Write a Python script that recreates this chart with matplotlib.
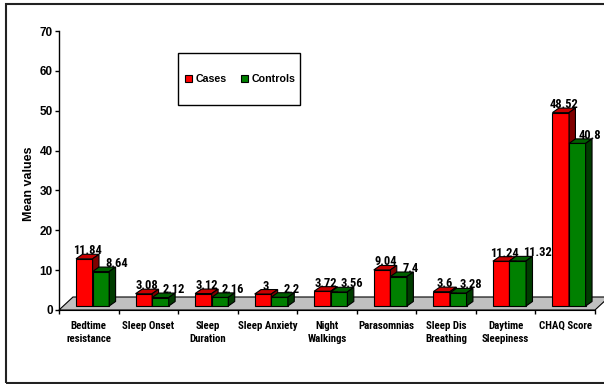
import matplotlib
matplotlib.use("Agg")
import matplotlib.pyplot as plt
from matplotlib.patches import Polygon, Rectangle, Patch
from matplotlib.transforms import offset_copy

categories = ["Bedtime\nresistance", "Sleep Onset", "Sleep\nDuration", "Sleep Anxiety",
              "Night\nWalkings", "Parasomnias", "Sleep Dis\nBreathing", "Daytime\nSleepiness",
              "CHAQ Score"]
cases = [11.84, 3.08, 3.12, 3.0, 3.72, 9.04, 3.6, 11.24, 48.52]
controls = [8.64, 2.12, 2.16, 2.2, 3.56, 7.4, 3.28, 11.32, 40.8]
series_names = ["Cases", "Controls"]

W, H = 604, 384
fig = plt.figure(figsize=(W / 100, H / 100), dpi=100)
fig.patch.set_facecolor("white")

# plot area in pixel terms
x0, x1, ytop, ybot = 59, 595, 31, 310
ax = fig.add_axes([x0 / W, (H - ybot) / H, (x1 - x0) / W, (ybot - ytop) / H])
ax.set_xlim(0, len(categories))
ax.set_ylim(0, 70)
ax.patch.set_alpha(0)

px_x = (x1 - x0) / len(categories)   # pixels per category
px_y = (ybot - ytop) / 70.0           # pixels per unit

bold = dict(family=["Liberation Sans", "DejaVu Sans"], weight="bold")
narrow = dict(family=["Roboto Condensed", "Liberation Sans"], weight="bold")

# floor
fdx, fdy = 14 / px_x, 13 / px_y
n = len(categories)
floor = Polygon([(0, 0), (n, 0), (n + fdx, fdy), (fdx, fdy)], closed=True,
                facecolor="#c0c0c0", edgecolor="black", lw=0.8, zorder=1, clip_on=False)
ax.add_patch(floor)

# bars sit slightly back from the floor edge
tr = offset_copy(ax.transData, fig=fig, x=0, y=4, units="dots")
bw = 16.6 / px_x
gap0 = 17 / px_x
dx, dy = 6.4 / px_x, 4.5 / px_y
palettes = [("#ff0000", "#c80000", "#800000"), ("#008000", "#006000", "#003c00")]
label_shift = [0, 9]
labels = [[], []]

for s, vals in enumerate([cases, controls]):
    front, top, side = palettes[s]
    ltr = offset_copy(tr, fig=fig, x=label_shift[s], y=0, units="dots")
    for i, v in enumerate(vals):
        xl = i + gap0 + s * bw
        z = 3 + s
        ax.bar(xl, v, width=bw, align="edge", color=front, edgecolor="black",
               lw=0.8, transform=tr, zorder=z, clip_on=False)
        ax.add_patch(Polygon([(xl, v), (xl + bw, v), (xl + bw + dx, v + dy), (xl + dx, v + dy)],
                             closed=True, facecolor=top, edgecolor="black", lw=0.8,
                             transform=tr, zorder=z, clip_on=False))
        ax.add_patch(Polygon([(xl + bw, 0), (xl + bw + dx, dy), (xl + bw + dx, v + dy), (xl + bw, v)],
                             closed=True, facecolor=side, edgecolor="black", lw=0.8,
                             transform=tr, zorder=z, clip_on=False))
        t = ax.text(xl + (bw + dx) / 2, v + dy, f"{v:g}", transform=ltr, ha="center",
                    va="baseline", fontsize=9, zorder=10, clip_on=False, **narrow)
        labels[s].append(t)

# axes styling
for sp in ["top", "right"]:
    ax.spines[sp].set_visible(False)
ax.spines["left"].set_linewidth(1)
ax.spines["bottom"].set_linewidth(0.8)
ax.set_yticks(range(0, 71, 10))
ax.tick_params(axis="y", direction="out", length=3, width=1, pad=1.5)
for lb in ax.get_yticklabels():
    lb.set_fontsize(8.5)
    lb.set_fontfamily(bold["family"])
    lb.set_fontweight("bold")

ax.set_xticks(range(0, n + 1))
ax.set_xticklabels([])
ax.tick_params(axis="x", which="major", direction="out", length=3, width=1)
ax.set_xticks([i + 0.5 for i in range(n)], minor=True)
ax.set_xticklabels(categories, minor=True, fontsize=7.8, linespacing=1.3, **narrow)
ax.tick_params(axis="x", which="minor", length=0, pad=8)

ax.set_ylabel("Mean values", fontsize=9, **bold)
ax.yaxis.set_label_coords(35.5 / W, (H - 184) / H, transform=fig.transFigure)

# push a Controls label right when it runs into the Cases label beside it
fig.canvas.draw()
rend = fig.canvas.get_renderer()
for ta, tb in zip(labels[0], labels[1]):
    ba, bb = ta.get_window_extent(rend), tb.get_window_extent(rend)
    if ba.y0 < bb.y1 and bb.y0 < ba.y1 and bb.x0 < ba.x1 + 4:
        push = ba.x1 + 4 - bb.x0
        tb.set_transform(offset_copy(tb.get_transform(), fig=fig, x=push, y=0, units="dots"))

# legend with a hand-drawn frame
lx0, ly0, lx1, ly1 = 178, 53, 300, 105
fig.patches.append(Rectangle((lx0 / W, (H - ly1) / H), (lx1 - lx0) / W, (ly1 - ly0) / H,
                             transform=fig.transFigure, fill=False, edgecolor="black", lw=1))
handles = [Patch(facecolor=c[0], edgecolor="black", lw=0.8) for c in palettes]
leg = ax.legend(handles, series_names, loc="center", ncol=2,
                bbox_to_anchor=((lx0 + lx1) / 2 / W + 0.002, (H - (ly0 + ly1) / 2) / H),
                bbox_transform=fig.transFigure, frameon=False, borderpad=0,
                handlelength=0.65, handleheight=0.65, handletextpad=0.35, columnspacing=1.3,
                prop=dict(family=bold["family"], weight="bold", size=7.7))

# outer chart border
fig.patches.append(Rectangle((6 / W, 1 / H), 1.2, (H - 5) / H, transform=fig.transFigure,
                             fill=False, edgecolor="#222222", lw=1.5))

fig.savefig("out.png", dpi=100)
